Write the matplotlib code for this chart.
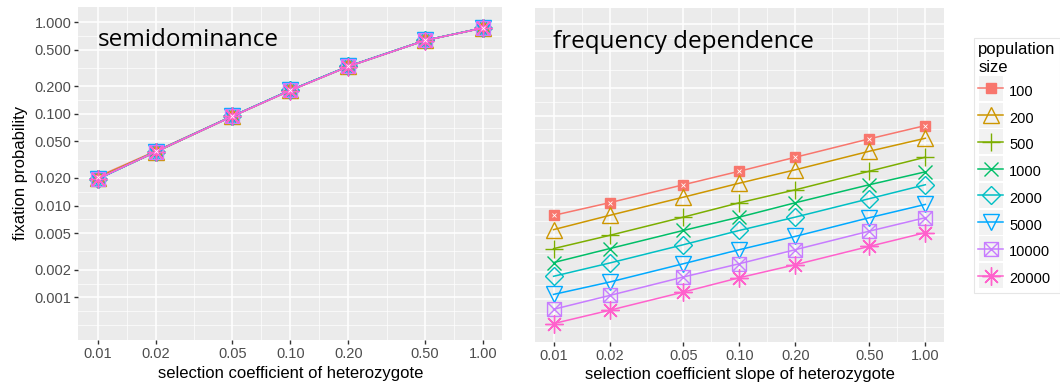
import numpy as np
import matplotlib
matplotlib.use('Agg')
import matplotlib.pyplot as plt
from matplotlib.path import Path
from matplotlib.lines import Line2D
from matplotlib.patches import Rectangle
from matplotlib.ticker import FixedLocator, FixedFormatter, NullFormatter

plt.rcParams['font.family'] = ['Liberation Sans', 'DejaVu Sans']

# x values (selection coefficient)
s_values = [0.01, 0.02, 0.05, 0.10, 0.20, 0.50, 1.00]
x_labels = ['0.01', '0.02', '0.05', '0.10', '0.20', '0.50', '1.00']
y_breaks = [0.001, 0.002, 0.005, 0.01, 0.02, 0.05, 0.1, 0.2, 0.5, 1.0]
y_labels = ['0.001', '0.002', '0.005', '0.010', '0.020', '0.050', '0.100', '0.200', '0.500', '1.000']

pop_sizes = ['100', '200', '500', '1000', '2000', '5000', '10000', '20000']
colors = ['#F8766D', '#CD9600', '#7CAE00', '#00BE67', '#00BFC4', '#00A9FF', '#C77CFF', '#FF61CC']

# semidominance: fixation probability per population size
semi_100 = [0.0206, 0.0392, 0.0945, 0.181, 0.330, 0.632, 0.864]
semi_200 = [0.0201, 0.0388, 0.0942, 0.180, 0.329, 0.631, 0.863]
semi_500 = [0.0196, 0.0382, 0.0938, 0.180, 0.328, 0.630, 0.862]
semi_1000 = [0.0195, 0.0384, 0.0940, 0.181, 0.329, 0.631, 0.863]
semi_2000 = [0.0194, 0.0386, 0.0941, 0.180, 0.328, 0.630, 0.862]
semi_5000 = [0.0193, 0.0387, 0.0943, 0.181, 0.330, 0.632, 0.864]
semi_10000 = [0.0195, 0.0385, 0.0939, 0.180, 0.328, 0.630, 0.862]
semi_20000 = [0.0196, 0.0384, 0.0937, 0.179, 0.327, 0.629, 0.861]

# frequency dependence: fixation probability per population size
freq_100 = [0.00819, 0.01125, 0.01766, 0.0248, 0.0352, 0.0558, 0.0778]
freq_200 = [0.00573, 0.00819, 0.01294, 0.01837, 0.0257, 0.0409, 0.0566]
freq_500 = [0.00356, 0.00496, 0.00785, 0.01125, 0.01556, 0.0248, 0.0352]
freq_1000 = [0.00251, 0.00356, 0.00562, 0.00785, 0.01125, 0.01766, 0.0244]
freq_2000 = [0.00178, 0.00248, 0.00393, 0.00562, 0.00785, 0.01245, 0.01766]
freq_5000 = [0.00113, 0.00154, 0.00244, 0.00347, 0.00484, 0.00773, 0.01078]
freq_10000 = [0.000778, 0.0011, 0.00175, 0.00244, 0.00347, 0.00552, 0.00773]
freq_20000 = [0.000544, 0.000759, 0.0012, 0.00172, 0.00238, 0.00377, 0.00531]

semi = [semi_100, semi_200, semi_500, semi_1000, semi_2000, semi_5000, semi_10000, semi_20000]
freq = [freq_100, freq_200, freq_500, freq_1000, freq_2000, freq_5000, freq_10000, freq_20000]

# ggplot-like shapes (square with a cross for 10000)
sq_x = Path([(-1, -1), (1, -1), (1, 1), (-1, 1), (-1, -1), (-1, -1), (1, 1), (-1, 1), (1, -1)],
            [Path.MOVETO, Path.LINETO, Path.LINETO, Path.LINETO, Path.LINETO,
             Path.MOVETO, Path.LINETO, Path.MOVETO, Path.LINETO])
styles = [
    dict(marker='s', ms=7, mfc='#F8766D', mec='#F8766D'),
    dict(marker='^', ms=11, mfc='none'),
    dict(marker='+', ms=13),
    dict(marker='x', ms=10),
    dict(marker='D', ms=9, mfc='none'),
    dict(marker='v', ms=11, mfc='none'),
    dict(marker=sq_x, ms=10, mfc='none'),
    dict(marker=(8, 2, 0), ms=13),
]

ylim = (10 ** -3.465, 10 ** 0.168)
xlim = (10 ** -2.1, 10 ** 0.1)


def style_axes(ax, ylabels=True):
    ax.set_facecolor('#EBEBEB')
    ax.set_xscale('log')
    ax.set_yscale('log')
    ax.set_xlim(xlim)
    ax.set_ylim(ylim)
    for sp in ax.spines.values():
        sp.set_visible(False)
    ax.xaxis.set_major_locator(FixedLocator(s_values))
    ax.xaxis.set_major_formatter(FixedFormatter(x_labels))
    xm = [np.sqrt(a * b) for a, b in zip(s_values[:-1], s_values[1:])]
    ax.xaxis.set_minor_locator(FixedLocator(xm))
    ax.xaxis.set_minor_formatter(NullFormatter())
    ax.yaxis.set_major_locator(FixedLocator(y_breaks))
    ym = [np.sqrt(a * b) for a, b in zip(y_breaks[:-1], y_breaks[1:])] + [10 ** -3.15, 10 ** -3.3]
    ax.yaxis.set_minor_locator(FixedLocator(ym))
    ax.yaxis.set_minor_formatter(NullFormatter())
    if ylabels:
        ax.yaxis.set_major_formatter(FixedFormatter(y_labels))
        ax.tick_params(axis='y', which='major', length=3, width=1, color='#333333',
                       labelcolor='#4D4D4D', labelsize=10.5, pad=2)
    else:
        ax.yaxis.set_major_formatter(NullFormatter())
        ax.tick_params(axis='y', which='major', length=0)
    ax.tick_params(axis='x', which='major', length=3, width=1, color='#333333',
                   labelcolor='#4D4D4D', labelsize=10.5, pad=2)
    ax.tick_params(which='minor', length=0)
    ax.grid(which='major', color='white', lw=1.1)
    ax.grid(which='minor', color='white', lw=0.5)
    ax.set_axisbelow(True)


fig = plt.figure(figsize=(10.6, 3.89), dpi=100)
ax1 = fig.add_axes([0.0739, 0.126, 0.4, 0.857])
ax2 = fig.add_axes([0.5047, 0.1208, 0.3858, 0.858])
style_axes(ax1)
style_axes(ax2, ylabels=False)

handles = []
for i in range(len(pop_sizes)):
    st = dict(styles[i])
    st.setdefault('mec', colors[i])
    ax1.plot(s_values, semi[i], color=colors[i], lw=1.1, mew=1, **st)
    ax2.plot(s_values, freq[i], color=colors[i], lw=1.1, mew=1, **st)
    handles.append(Line2D([], [], color=colors[i], lw=1.1, mew=1, **st))
# small white pattern on the filled red squares
ax1.plot(s_values, semi_100, ls='none', marker='x', ms=3, mew=0.6, color='white')
ax2.plot(s_values, freq_100, ls='none', marker='x', ms=3, mew=0.6, color='white')

ax1.set_xlabel('selection coefficient of heterozygote', fontsize=12, labelpad=4)
ax1.set_ylabel('fixation probability', fontsize=12, labelpad=5)
ax2.set_xlabel('selection coefficient slope of heterozygote', fontsize=12, labelpad=3)

ax1.text(0.045, 0.9, 'semidominance', transform=ax1.transAxes, fontsize=17.5,
         family='Open Sans', va='center', ha='left')
ax2.text(0.043, 0.9, 'frequency dependence', transform=ax2.transAxes, fontsize=17.5,
         family='Open Sans', va='center', ha='left')

leg = fig.legend(handles, pop_sizes, title='population\nsize', loc='upper left',
                 bbox_to_anchor=(974 / 1060, 1 - 38 / 389), fontsize=10.5,
                 title_fontsize=12, frameon=True, fancybox=False, handlelength=1.7,
                 handleheight=1.8, labelspacing=0.42, handletextpad=0.4,
                 borderpad=0.3, borderaxespad=0, alignment='left')
leg.get_frame().set_edgecolor('#E0E0E0')
leg.get_frame().set_facecolor('none')
leg.get_frame().set_linewidth(0.8)

fig.canvas.draw()
inv = fig.transFigure.inverted()
for h in leg.legend_handles:
    bb = h.get_window_extent()
    cx, cy = (bb.x0 + bb.x1) / 2, (bb.y0 + bb.y1) / 2
    (x0, y0) = inv.transform((cx - 12, cy - 12.5))
    (x1, y1) = inv.transform((cx + 12, cy + 12.5))
    fig.patches.append(Rectangle((x0, y0), x1 - x0, y1 - y0, transform=fig.transFigure,
                                 facecolor='#F2F2F2', edgecolor='none', zorder=1))

fig.savefig('out.png', dpi=100)
